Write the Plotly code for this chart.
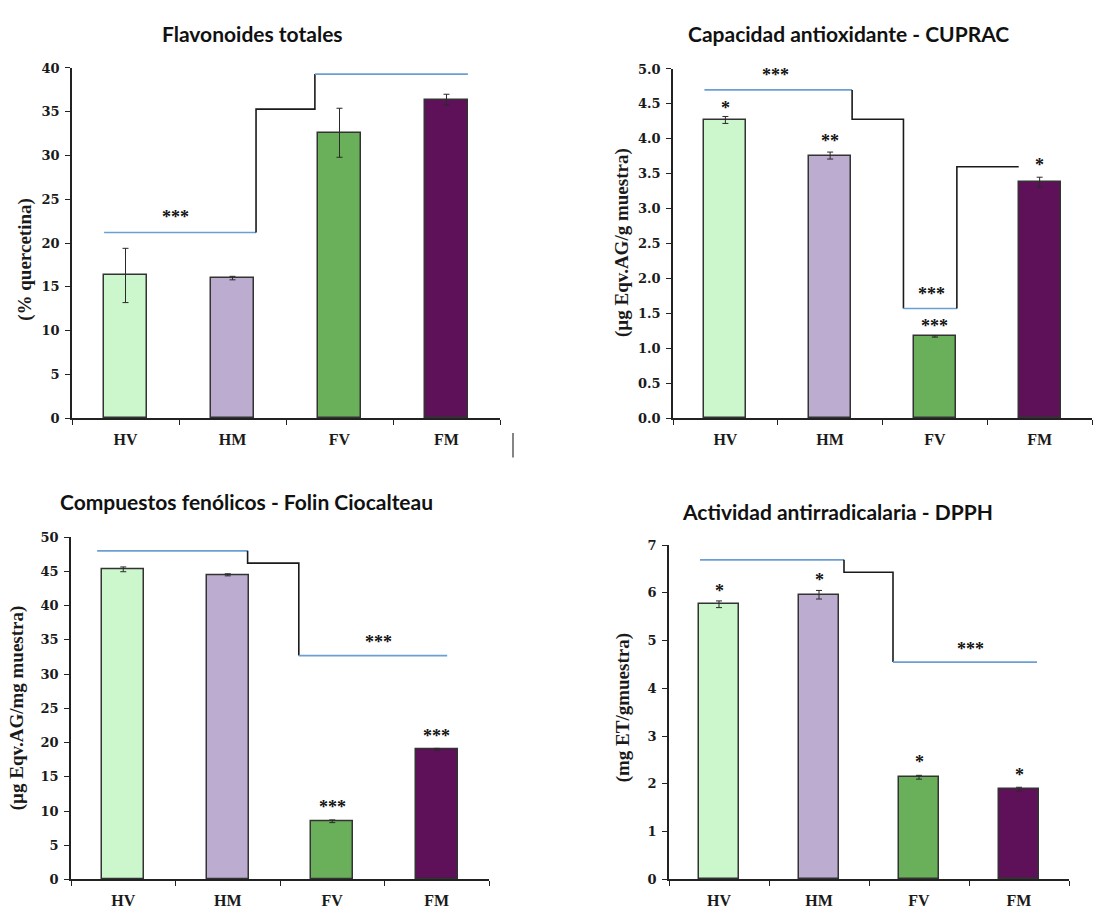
import plotly.graph_objects as go

# ---------------- data ----------------
categories = ["HV", "HM", "FV", "FM"]
bar_colors = ["#ccf6cc", "#bcacd0", "#6ab05a", "#5e1058"]

flav = [16.3, 16.0, 32.6, 36.4]
flav_err = [3.1, 0.2, 2.8, 0.6]

cuprac = [4.27, 3.76, 1.17, 3.38]
cuprac_err = [0.05, 0.05, 0.01, 0.07]

folin = [45.3, 44.5, 8.5, 19.0]
folin_err = [0.35, 0.15, 0.2, 0.15]

dpph = [5.76, 5.96, 2.14, 1.89]
dpph_err = [0.07, 0.09, 0.04, 0.04]

titles = ["Flavonoides totales", "Capacidad antioxidante - CUPRAC",
          "Compuestos fenólicos - Folin Ciocalteau", "Actividad antirradicalaria - DPPH"]
ytitles = ["(% quercetina)", "(µg Eqv.AG/g muestra)",
           "(µg Eqv.AG/mg muestra)", "(mg ET/gmuestra)"]

# significance brackets (category-index x, value y, colour key)
flav_brackets = [
    ([-0.2, 1.22], [21.2, 21.2], "blue"),
    ([1.22, 1.22, 1.77, 1.77], [21.2, 35.3, 35.3, 39.3], "black"),
    ([1.77, 3.2], [39.3, 39.3], "blue"),
]
cuprac_brackets = [
    ([-0.2, 1.21], [4.70, 4.70], "blue"),
    ([1.21, 1.21, 1.70, 1.70], [4.70, 4.28, 4.28, 1.57], "black"),
    ([1.70, 2.21], [1.57, 1.57], "blue"),
    ([2.21, 2.21, 2.8], [1.57, 3.6, 3.6], "black"),
]
folin_brackets = [
    ([-0.25, 1.19], [48.0, 48.0], "blue"),
    ([1.19, 1.19, 1.68, 1.68], [48.0, 46.2, 46.2, 32.7], "black"),
    ([1.68, 3.1], [32.7, 32.7], "blue"),
]
dpph_brackets = [
    ([-0.19, 1.25], [6.69, 6.69], "blue"),
    ([1.25, 1.25, 1.74, 1.74], [6.69, 6.43, 6.43, 4.55], "black"),
    ([1.74, 3.18], [4.55, 4.55], "blue"),
]

# significance marks (x, y, text)
flav_stars = [(0.47, 23.4, "***"), (2.51, 41.3, "***")]
cuprac_stars = [(0.48, 4.97, "***"), (0, 4.5, "*"), (1, 4.03, "**"),
                (1.97, 1.84, "***"), (2, 1.37, "***"), (3, 3.68, "*")]
folin_stars = [(0.45, 50.7, "***"), (2.44, 35.2, "***"),
               (2, 11.1, "***"), (3, 21.5, "***")]
dpph_stars = [(0.51, 7.04, "***"), (2.51, 4.9, "***"), (0, 6.12, "*"),
              (1, 6.36, "*"), (2, 2.54, "*"), (3, 2.26, "*")]

y_ranges = [[0, 40], [0, 5], [0, 50], [0, 7]]
y_dticks = [5, 0.5, 5, 1]
y_formats = ["d", ".1f", "d", "d"]

# ---------------- layout geometry (pixels) ----------------
W, H = 1093, 915
panels_px = [  # x0, x1, ytop, ybottom
    (72, 500, 62, 418),
    (673, 1092, 63, 418),
    (71, 489, 539, 887),
    (669, 1069, 547, 887),
]
title_px = [(252, 27), (848, 27), (246, 503), (837, 513)]
ytitle_px = [(25, 257), (622, 240), (17, 713), (623, 713)]

line_colors = {"blue": "#6b9fd3", "black": "#1a1a1a"}
serif = "Liberation Serif"
tickserif = "DejaVu Serif"
sans = "Lato"

values = [flav, cuprac, folin, dpph]
errors = [flav_err, cuprac_err, folin_err, dpph_err]
brackets = [flav_brackets, cuprac_brackets, folin_brackets, dpph_brackets]
stars = [flav_stars, cuprac_stars, folin_stars, dpph_stars]

fig = go.Figure()
xpos = list(range(len(categories)))

for i in range(4):
    xa = "x" if i == 0 else f"x{i+1}"
    ya = "y" if i == 0 else f"y{i+1}"
    fig.add_trace(go.Bar(
        x=xpos, y=values[i], width=0.4, xaxis=xa, yaxis=ya,
        marker=dict(color=bar_colors, line=dict(color="#333333", width=1.5)),
        error_y=dict(type="data", array=errors[i], color="#2a2a2a",
                     thickness=1, width=3),
        showlegend=False, hoverinfo="skip",
    ))
    for bx, by, c in brackets[i]:
        fig.add_trace(go.Scatter(
            x=bx, y=by, mode="lines", xaxis=xa, yaxis=ya,
            line=dict(color=line_colors[c], width=1.6),
            showlegend=False, hoverinfo="skip", cliponaxis=False,
        ))
    for sx, sy, st in stars[i]:
        fig.add_annotation(
            x=sx, y=sy, xref=xa, yref=ya, text=st, showarrow=False,
            xanchor="center", yanchor="middle",
            font=dict(family=serif, size=18, color="#111111", weight="bold"),
            yshift=-4,
        )

    x0, x1, yt, yb = panels_px[i]
    axis_common = dict(showline=True, linecolor="#222222", linewidth=1.5,
                       showgrid=False, zeroline=False)
    fig.layout[f"xaxis{'' if i == 0 else i+1}"] = dict(
        domain=[x0 / W, x1 / W], anchor=ya, range=[-0.5, 3.5],
        tickvals=xpos, ticktext=categories, ticks="",
        minor=dict(tickvals=[-0.5, 0.5, 1.5, 2.5, 3.5], ticks="outside",
                   ticklen=5, tickcolor="#222222", tickwidth=1.2),
        tickfont=dict(family=serif, size=16, color="#1a1a1a", weight="bold"),
        ticklabelstandoff=6,
        **axis_common,
    )
    fig.layout[f"yaxis{'' if i == 0 else i+1}"] = dict(
        domain=[1 - yb / H, 1 - yt / H], anchor=xa, range=y_ranges[i],
        dtick=y_dticks[i], tickformat=y_formats[i], ticks="outside",
        ticklen=5, tickcolor="#222222", tickwidth=1.2,
        tickfont=dict(family=tickserif, size=13, color="#1a1a1a", weight="bold"),
        ticklabelstandoff=3,
        **axis_common,
    )
    tx, ty = title_px[i]
    fig.add_annotation(x=tx / W, y=1 - ty / H, xref="paper", yref="paper",
                       xanchor="center", yanchor="middle",
                       text=titles[i], showarrow=False,
                       font=dict(family=sans, size=21, color="#111111", weight="bold"))
    ax_, ay_ = ytitle_px[i]
    fig.add_annotation(x=ax_ / W, y=1 - ay_ / H, xref="paper", yref="paper",
                       xanchor="center", yanchor="middle",
                       text=ytitles[i], showarrow=False, textangle=-90,
                       font=dict(family=serif, size=19, color="#1a1a1a", weight="bold"))

# stray vertical mark in the original image
fig.add_shape(type="line", xref="paper", yref="paper",
              x0=513 / W, x1=513 / W, y0=1 - 433 / H, y1=1 - 458 / H,
              line=dict(color="#333333", width=1.2))

fig.update_layout(width=W, height=H, margin=dict(l=0, r=0, t=0, b=0),
                  paper_bgcolor="white", plot_bgcolor="white", bargap=0)

fig.write_html("out.html", config={"displayModeBar": False},
               post_script="document.body.style.margin='0';document.body.style.overflow='hidden';")
